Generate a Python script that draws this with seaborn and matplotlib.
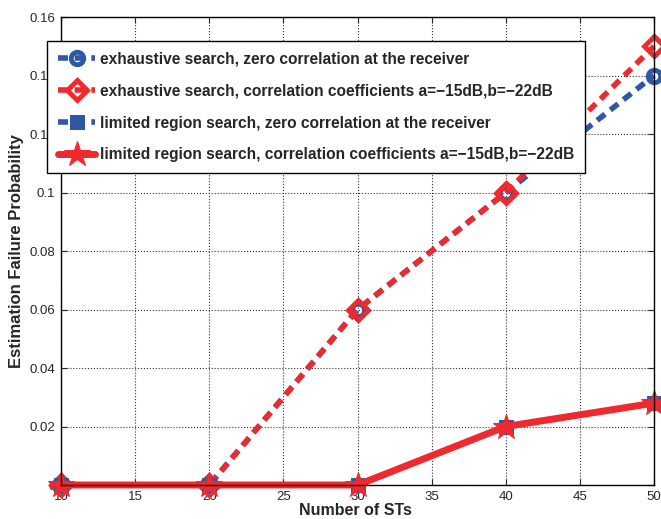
import matplotlib
matplotlib.use('Agg')
import matplotlib.pyplot as plt
import seaborn as sns

# values
num_sts = [10, 20, 30, 40, 50]
exh_zero = [0, 0, 0.06, 0.10, 0.14]
exh_corr = [0, 0, 0.06, 0.10, 0.15]
lim_zero = [0, 0, 0, 0.02, 0.028]
lim_corr = [0, 0, 0, 0.02, 0.028]

labels = ['exhaustive search, zero correlation at the receiver',
          'exhaustive search, correlation coefficients a=\u221215dB,b=\u221222dB',
          'limited region search, zero correlation at the receiver',
          'limited region search, correlation coefficients a=\u221215dB,b=\u221222dB']

blue = '#2E58A6'
red = '#EE2A2F'

sns.set_style('ticks')
plt.rcParams['font.family'] = ['Liberation Sans', 'DejaVu Sans']

fig = plt.figure(figsize=(6.61, 5.19), dpi=100)
ax = fig.add_axes([0.0923, 0.0655, 0.8971, 0.9017])

sns.lineplot(x=num_sts, y=exh_zero, ax=ax, color=blue, lw=4, marker='o', ms=9,
             mfc='none', mec=blue, mew=3.5, label=labels[0], clip_on=False)
sns.lineplot(x=num_sts, y=exh_corr, ax=ax, color=red, lw=4, marker='D', ms=10,
             mfc='none', mec=red, mew=3.5, label=labels[1], clip_on=False)
sns.lineplot(x=num_sts, y=lim_zero, ax=ax, color=blue, lw=4, marker='s', ms=10,
             mfc=blue, mec=blue, label=labels[2], clip_on=False)
sns.lineplot(x=num_sts, y=lim_corr, ax=ax, color=red, lw=5, marker='*', ms=19,
             mfc=red, mec=red, label=labels[3], clip_on=False)

# short thick dashes like the original export
for ln in ax.get_lines()[:3]:
    ln.set_dashes((1.8, 1.2))

ax.set_xlim(10, 50)
ax.set_ylim(0, 0.16)
ax.set_xticks(range(10, 51, 5))
ax.set_yticks([0, 0.02, 0.04, 0.06, 0.08, 0.1, 0.12, 0.14, 0.16])
ax.set_yticklabels(['0', '0.02', '0.04', '0.06', '0.08', '0.1', '0.12', '0.14', '0.16'])
ax.tick_params(direction='in', top=True, right=True, labelsize=9.5, length=4, pad=4)
ax.grid(True, linestyle=':', color='#333333', linewidth=0.8)
for s in ax.spines.values():
    s.set_color('black')
    s.set_linewidth(1.0)

ax.set_xlabel('Number of STs', fontsize=11.5, fontweight='bold')
ax.set_ylabel('Estimation Failure Probability', fontsize=12, fontweight='bold')
ax.xaxis.set_label_coords(0.497, -0.039)
ax.yaxis.set_label_coords(-0.062, 0.5)

leg = ax.legend(loc='upper left', bbox_to_anchor=(-0.0236, 0.9487),
                prop={'weight': 'bold', 'size': 11.2}, frameon=True, fancybox=False,
                edgecolor='black', framealpha=1, handlelength=2.4, borderpad=0.7,
                labelspacing=1.08, handletextpad=0.3, borderaxespad=0)
leg.get_frame().set_linewidth(1.0)
leg.set_zorder(5)

fig.savefig('out.png', dpi=100)
